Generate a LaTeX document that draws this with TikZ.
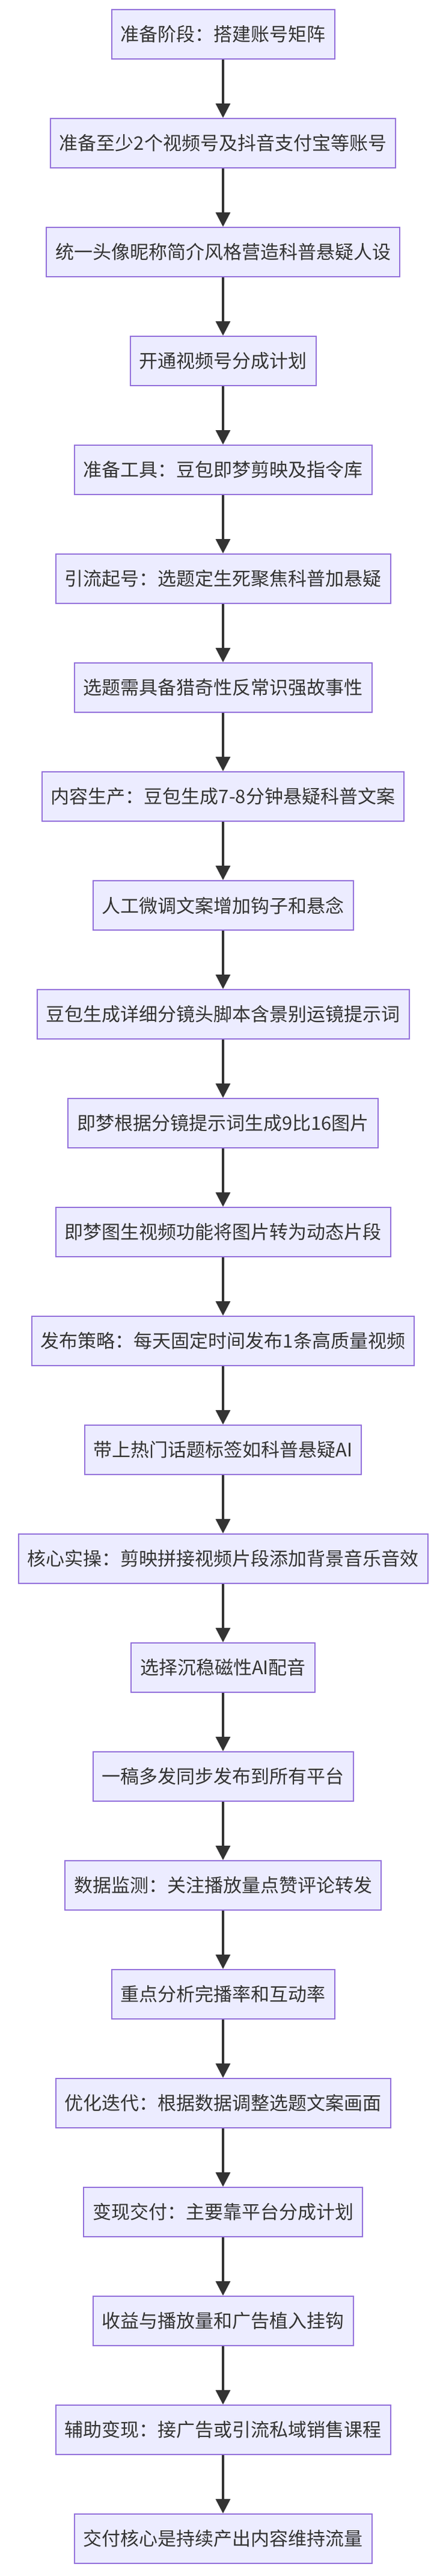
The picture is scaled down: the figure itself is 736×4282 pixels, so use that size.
\documentclass[tikz,border=0pt]{standalone}
\usepackage{fontspec}
\setmainfont{Noto Sans CJK SC}
\usepackage{tikz}
\usetikzlibrary{arrows.meta}
\definecolor{boxfill}{HTML}{ECECFF}
\definecolor{boxline}{HTML}{9370DB}
\definecolor{flow}{HTML}{333333}
\begin{document}
\begin{tikzpicture}[x=1pt,y=1pt,
	stage/.style={rectangle, draw=boxline, fill=boxfill, line width=2pt, minimum height=82pt, inner xsep=15pt, text=flow, font=\fontsize{31pt}{36pt}\selectfont},
	go/.style={draw=flow, line width=3.5pt, -{Triangle[length=24pt,width=24pt]}}]
	\useasboundingbox (0,0) rectangle (736,-4282);
	\node[stage] (s1) at (371,-57) {准备阶段：搭建账号矩阵};
	\node[stage] (s2) at (371,-238) {准备至少2个视频号及抖音支付宝等账号};
	\node[stage] (s3) at (371,-419) {统一头像昵称简介风格营造科普悬疑人设};
	\node[stage] (s4) at (371,-600) {开通视频号分成计划};
	\node[stage] (s5) at (371,-781) {准备工具：豆包即梦剪映及指令库};
	\node[stage] (s6) at (371,-962) {引流起号：选题定生死聚焦科普加悬疑};
	\node[stage] (s7) at (371,-1143) {选题需具备猎奇性反常识强故事性};
	\node[stage] (s8) at (371,-1324) {内容生产：豆包生成7-8分钟悬疑科普文案};
	\node[stage] (s9) at (371,-1505) {人工微调文案增加钩子和悬念};
	\node[stage] (s10) at (371,-1686) {豆包生成详细分镜头脚本含景别运镜提示词};
	\node[stage] (s11) at (371,-1867) {即梦根据分镜提示词生成9比16图片};
	\node[stage] (s12) at (371,-2048) {即梦图生视频功能将图片转为动态片段};
	\node[stage] (s13) at (371,-2229) {发布策略：每天固定时间发布1条高质量视频};
	\node[stage] (s14) at (371,-2410) {带上热门话题标签如科普悬疑AI};
	\node[stage] (s15) at (371,-2591) {核心实操：剪映拼接视频片段添加背景音乐音效};
	\node[stage] (s16) at (371,-2772) {选择沉稳磁性AI配音};
	\node[stage] (s17) at (371,-2953) {一稿多发同步发布到所有平台};
	\node[stage] (s18) at (371,-3134) {数据监测：关注播放量点赞评论转发};
	\node[stage] (s19) at (371,-3315) {重点分析完播率和互动率};
	\node[stage] (s20) at (371,-3496) {优化迭代：根据数据调整选题文案画面};
	\node[stage] (s21) at (371,-3677) {变现交付：主要靠平台分成计划};
	\node[stage] (s22) at (371,-3858) {收益与播放量和广告植入挂钩};
	\node[stage] (s23) at (371,-4039) {辅助变现：接广告或引流私域销售课程};
	\node[stage] (s24) at (371,-4220) {交付核心是持续产出内容维持流量};
	\draw[go] (s1) -- (s2);
	\draw[go] (s2) -- (s3);
	\draw[go] (s3) -- (s4);
	\draw[go] (s4) -- (s5);
	\draw[go] (s5) -- (s6);
	\draw[go] (s6) -- (s7);
	\draw[go] (s7) -- (s8);
	\draw[go] (s8) -- (s9);
	\draw[go] (s9) -- (s10);
	\draw[go] (s10) -- (s11);
	\draw[go] (s11) -- (s12);
	\draw[go] (s12) -- (s13);
	\draw[go] (s13) -- (s14);
	\draw[go] (s14) -- (s15);
	\draw[go] (s15) -- (s16);
	\draw[go] (s16) -- (s17);
	\draw[go] (s17) -- (s18);
	\draw[go] (s18) -- (s19);
	\draw[go] (s19) -- (s20);
	\draw[go] (s20) -- (s21);
	\draw[go] (s21) -- (s22);
	\draw[go] (s22) -- (s23);
	\draw[go] (s23) -- (s24);
\end{tikzpicture}
\end{document}
